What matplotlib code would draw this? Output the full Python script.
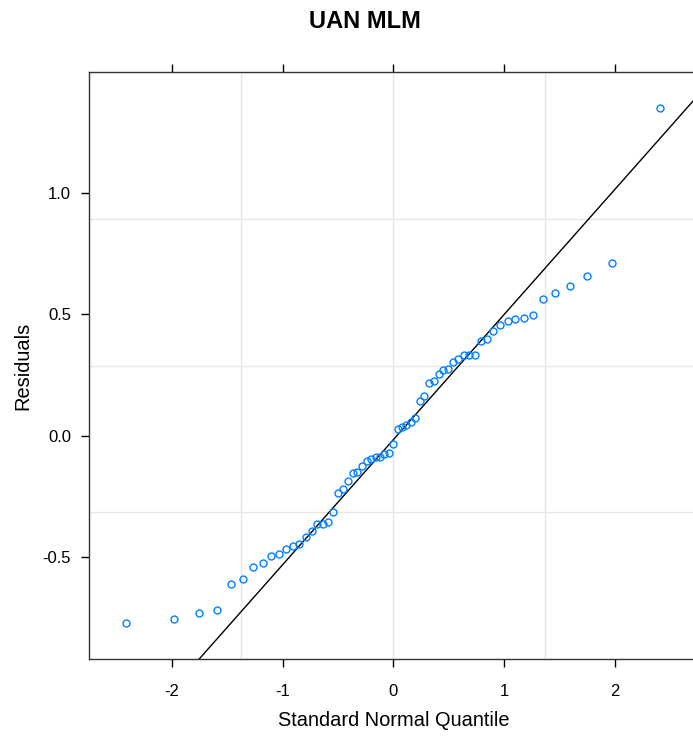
import matplotlib
matplotlib.use('Agg')
import matplotlib.pyplot as plt
import numpy as np
from statistics import NormalDist

# residuals of the model, sorted
residuals = [-0.773, -0.757, -0.731, -0.720, -0.612, -0.590, -0.541, -0.526,
             -0.495, -0.489, -0.467, -0.456, -0.446, -0.418, -0.392, -0.365,
             -0.365, -0.358, -0.314, -0.235, -0.220, -0.186, -0.155, -0.151,
             -0.127, -0.105, -0.097, -0.089, -0.087, -0.077, -0.070, -0.033,
             0.028, 0.034, 0.045, 0.055, 0.072, 0.142, 0.163, 0.218,
             0.224, 0.254, 0.272, 0.276, 0.304, 0.315, 0.331, 0.331,
             0.331, 0.389, 0.399, 0.432, 0.457, 0.475, 0.481, 0.486,
             0.497, 0.562, 0.589, 0.616, 0.659, 0.713, 1.352]
x_ticks = [-2, -1, 0, 1, 2]
y_ticks = [-0.5, 0.0, 0.5, 1.0]
title = "UAN MLM"
x_label = "Standard Normal Quantile"
y_label = "Residuals"

plt.rcParams['font.family'] = ['Liberation Sans', 'DejaVu Sans']

# theoretical quantiles like R's qqmath (ppoints)
y = np.sort(np.array(residuals))
n = len(y)
nd = NormalDist()
x = np.array([nd.inv_cdf((i + 0.5) / n) for i in range(n)])

# qqline through the quartiles
q1, q3 = np.percentile(y, [25, 75])
z1, z3 = nd.inv_cdf(0.25), nd.inv_cdf(0.75)
slope = (q3 - q1) / (z3 - z1)
intercept = q1 - slope * z1

W, H = 693, 736
fig = plt.figure(figsize=(W / 100, H / 100), dpi=100)
left, right, top, bottom = 89, 697.5, 72, 659
ax = fig.add_axes([left / W, 1 - bottom / H, (right - left) / W, (bottom - top) / H])

# lattice style 7% padding
xpad = 0.07 * (x.max() - x.min())
ypad = 0.07 * (y.max() - y.min())
xlim = (x.min() - xpad, x.max() + xpad)
ylim = (y.min() - ypad, y.max() + ypad)
ax.set_xlim(xlim)
ax.set_ylim(ylim)

for gx in np.linspace(xlim[0], xlim[1], 5)[1:-1]:
    ax.axvline(gx, color='#e6e6e6', lw=1, zorder=0)
for gy in np.linspace(ylim[0], ylim[1], 5)[1:-1]:
    ax.axhline(gy, color='#e6e6e6', lw=1, zorder=0)

ax.axline((0, intercept), slope=slope, color='black', lw=1, zorder=2)
ax.plot(x, y, 'o', mfc='none', mec='#0080ff', ms=5, mew=1, zorder=3)

ax.set_xticks(x_ticks)
ax.set_xticklabels([str(t) for t in x_ticks])
ax.set_yticks(y_ticks)
ax.set_yticklabels([f"{t:.1f}" for t in y_ticks])
ax.tick_params(axis='both', direction='out', length=5.8, width=1, labelsize=12, colors='black')
ax.tick_params(axis='x', top=True, pad=12)
ax.tick_params(axis='y', pad=7)
ax.spines['right'].set_visible(False)
for s in ['left', 'top', 'bottom']:
    ax.spines[s].set_linewidth(1)
    ax.spines[s].set_color('#333333')

ax.set_xlabel(x_label, fontsize=14.4, labelpad=8.6)
ax.set_ylabel(y_label, fontsize=14.4, labelpad=7.7)
fig.text(365 / W, 1 - 22 / H, title, fontsize=17, fontweight='bold', ha='center', va='center')

fig.savefig("out.png", dpi=100)
